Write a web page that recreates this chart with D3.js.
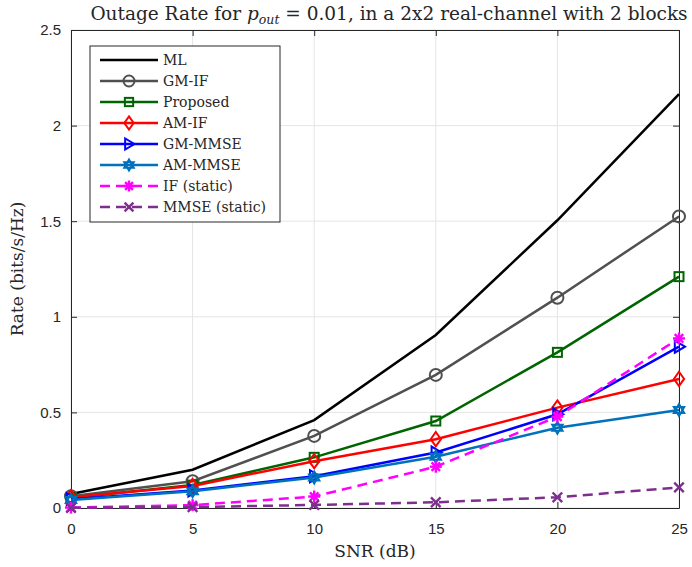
<!DOCTYPE html>
<html lang="en">
<head>
    <meta charset="UTF-8">
    <title>Outage Rate</title>
    <script src="https://d3js.org/d3.v7.min.js"></script>
    <style>
        body { margin: 0; background: #fff; }
        .tick text { font-family: "Liberation Sans", Arial, sans-serif; font-size: 15px; fill: #262626; }
        .serif { font-family: "DejaVu Serif", "Liberation Serif", serif; fill: #262626; }
    </style>
</head>
<body>
<div id="chart"></div>
<script>
    // data
    const snr = [0, 5, 10, 15, 20, 25];
    const ml        = [0.073, 0.20, 0.46, 0.905, 1.505, 2.165];
    const gmIf      = [0.062, 0.14, 0.377, 0.696, 1.10, 1.525];
    const proposed  = [0.052, 0.12, 0.265, 0.455, 0.814, 1.21];
    const amIf      = [0.056, 0.115, 0.245, 0.36, 0.525, 0.675];
    const gmMmse    = [0.046, 0.092, 0.166, 0.29, 0.49, 0.844];
    const amMmse    = [0.042, 0.088, 0.16, 0.268, 0.42, 0.513];
    const ifStatic  = [0.002, 0.015, 0.06, 0.216, 0.478, 0.887];
    const mmseStatic = [0.001, 0.005, 0.016, 0.03, 0.056, 0.108];
    const xTicks = [0, 5, 10, 15, 20, 25];
    const yTicks = [0, 0.5, 1, 1.5, 2, 2.5];

    const series = [
        {name: "ML", values: ml, color: "#000000", marker: "none", dash: null},
        {name: "GM-IF", values: gmIf, color: "#505050", marker: "circle", dash: null},
        {name: "Proposed", values: proposed, color: "#006400", marker: "square", dash: null},
        {name: "AM-IF", values: amIf, color: "#ff0000", marker: "diamond", dash: null},
        {name: "GM-MMSE", values: gmMmse, color: "#0000ff", marker: "triangle", dash: null},
        {name: "AM-MMSE", values: amMmse, color: "#0072bd", marker: "hexagram", dash: null},
        {name: "IF (static)", values: ifStatic, color: "#ff00ff", marker: "asterisk", dash: "10,6"},
        {name: "MMSE (static)", values: mmseStatic, color: "#7e2f8e", marker: "cross", dash: "10,6"}
    ];

    const W = 692, H = 567;
    const margin = {top: 30, right: 13, bottom: 59, left: 71};
    const width = W - margin.left - margin.right;
    const height = H - margin.top - margin.bottom;

    const svg = d3.select("#chart").append("svg")
        .attr("width", W).attr("height", H);

    const g = svg.append("g")
        .attr("transform", `translate(${margin.left},${margin.top})`);

    const x = d3.scaleLinear().domain([0, 25]).range([0, width]);
    const y = d3.scaleLinear().domain([0, 2.5]).range([height, 0]);

    // grid
    g.append("g").selectAll("line").data(xTicks).enter().append("line")
        .attr("x1", d => x(d)).attr("x2", d => x(d))
        .attr("y1", 0).attr("y2", height)
        .attr("stroke", "#e5e5e5").attr("stroke-width", 1);
    g.append("g").selectAll("line").data(yTicks).enter().append("line")
        .attr("y1", d => y(d)).attr("y2", d => y(d))
        .attr("x1", 0).attr("x2", width)
        .attr("stroke", "#e5e5e5").attr("stroke-width", 1);

    // axes (ticks inward)
    const xAxis = g.append("g")
        .attr("transform", `translate(0,${height})`)
        .call(d3.axisBottom(x).tickValues(xTicks).tickSizeInner(-6).tickSizeOuter(0).tickPadding(15));
    const yAxis = g.append("g")
        .call(d3.axisLeft(y).tickValues(yTicks).tickFormat(d3.format("~g")).tickSizeInner(-6).tickSizeOuter(0).tickPadding(10));
    const xTop = g.append("g")
        .call(d3.axisTop(x).tickValues(xTicks).tickSizeInner(-6).tickSizeOuter(0).tickFormat(""));
    const yRight = g.append("g")
        .attr("transform", `translate(${width},0)`)
        .call(d3.axisRight(y).tickValues(yTicks).tickSizeInner(-6).tickSizeOuter(0).tickFormat(""));
    [xAxis, yAxis, xTop, yRight].forEach(a => {
        a.selectAll("path, line").attr("stroke", "#262626");
        a.select(".domain").attr("stroke-width", 1);
    });

    // marker drawing
    function drawMarker(sel, type, color, size) {
        const s = size;
        if (type === "circle") {
            sel.append("circle").attr("r", s).attr("fill", "none").attr("stroke", color).attr("stroke-width", 2);
        } else if (type === "square") {
            sel.append("rect").attr("x", -s * 0.75).attr("y", -s * 0.75).attr("width", s * 1.5).attr("height", s * 1.5)
                .attr("fill", "none").attr("stroke", color).attr("stroke-width", 2);
        } else if (type === "diamond") {
            sel.append("path").attr("d", `M0,${-s * 1.2}L${s * 0.85},0L0,${s * 1.2}L${-s * 0.85},0Z`)
                .attr("fill", "none").attr("stroke", color).attr("stroke-width", 2);
        } else if (type === "triangle") {
            sel.append("path").attr("d", `M${s},0L${-s * 0.7},${-s}L${-s * 0.7},${s}Z`)
                .attr("fill", "none").attr("stroke", color).attr("stroke-width", 2);
        } else if (type === "hexagram") {
            const r = s;
            const t1 = d3.range(3).map(i => [r * Math.cos(-Math.PI / 2 + i * 2 * Math.PI / 3), r * Math.sin(-Math.PI / 2 + i * 2 * Math.PI / 3)]);
            const t2 = d3.range(3).map(i => [r * Math.cos(Math.PI / 2 + i * 2 * Math.PI / 3), r * Math.sin(Math.PI / 2 + i * 2 * Math.PI / 3)]);
            [t1, t2].forEach(t => sel.append("path").attr("d", "M" + t.join("L") + "Z")
                .attr("fill", "none").attr("stroke", color).attr("stroke-width", 2));
        } else if (type === "asterisk") {
            [0, 45, 90, 135].forEach(a => {
                const c = Math.cos(a * Math.PI / 180) * s, sn = Math.sin(a * Math.PI / 180) * s;
                sel.append("line").attr("x1", -c).attr("y1", -sn).attr("x2", c).attr("y2", sn)
                    .attr("stroke", color).attr("stroke-width", 2.4);
            });
        } else if (type === "cross") {
            const c = s * 0.8;
            sel.append("line").attr("x1", -c).attr("y1", -c).attr("x2", c).attr("y2", c).attr("stroke", color).attr("stroke-width", 2.4);
            sel.append("line").attr("x1", -c).attr("y1", c).attr("x2", c).attr("y2", -c).attr("stroke", color).attr("stroke-width", 2.4);
        }
    }

    const line = d3.line().x((d, i) => x(snr[i])).y(d => y(d));

    const plot = g.append("g");
    series.forEach(s => {
        plot.append("path")
            .datum(s.values)
            .attr("fill", "none")
            .attr("stroke", s.color)
            .attr("stroke-width", 2.5)
            .attr("stroke-dasharray", s.dash)
            .attr("d", line);
        if (s.marker !== "none") {
            s.values.forEach((v, i) => {
                const m = plot.append("g").attr("transform", `translate(${x(snr[i])},${y(v)})`);
                drawMarker(m, s.marker, s.color, 6);
            });
        }
    });

    // title
    const title = svg.append("text").attr("class", "serif")
        .attr("x", margin.left + width / 2 + 14).attr("y", 20)
        .attr("text-anchor", "middle").style("font-size", "18.5px");
    title.append("tspan").text("Outage Rate for ");
    title.append("tspan").style("font-style", "italic").text("p");
    title.append("tspan").style("font-style", "italic").style("font-size", "12.5px").attr("dy", 4).text("out");
    title.append("tspan").attr("dy", -4).text(" = 0.01, in a 2x2 real-channel with 2 blocks");

    // axis labels
    svg.append("text").attr("class", "serif")
        .attr("x", margin.left + width / 2).attr("y", 557)
        .attr("text-anchor", "middle").style("font-size", "17px").text("SNR (dB)");
    svg.append("text").attr("class", "serif")
        .attr("transform", `translate(23,${margin.top + height / 2}) rotate(-90)`)
        .attr("text-anchor", "middle").style("font-size", "17px").text("Rate (bits/s/Hz)");

    // legend
    const lg = svg.append("g").attr("transform", "translate(90,46)");
    lg.append("rect").attr("width", 190).attr("height", 176)
        .attr("fill", "#fff").attr("stroke", "#262626").attr("stroke-width", 1);
    series.forEach((s, i) => {
        const yy = 14 + i * 21;
        lg.append("line").attr("x1", 10).attr("x2", 68).attr("y1", yy).attr("y2", yy)
            .attr("stroke", s.color).attr("stroke-width", 2.5).attr("stroke-dasharray", s.dash);
        if (s.marker !== "none") {
            const m = lg.append("g").attr("transform", `translate(39,${yy})`);
            drawMarker(m, s.marker, s.color, 5.5);
        }
        lg.append("text").attr("class", "serif")
            .attr("x", 73).attr("y", yy + 5).style("font-size", "14px").text(s.name);
    });
</script>
</body>
</html>
